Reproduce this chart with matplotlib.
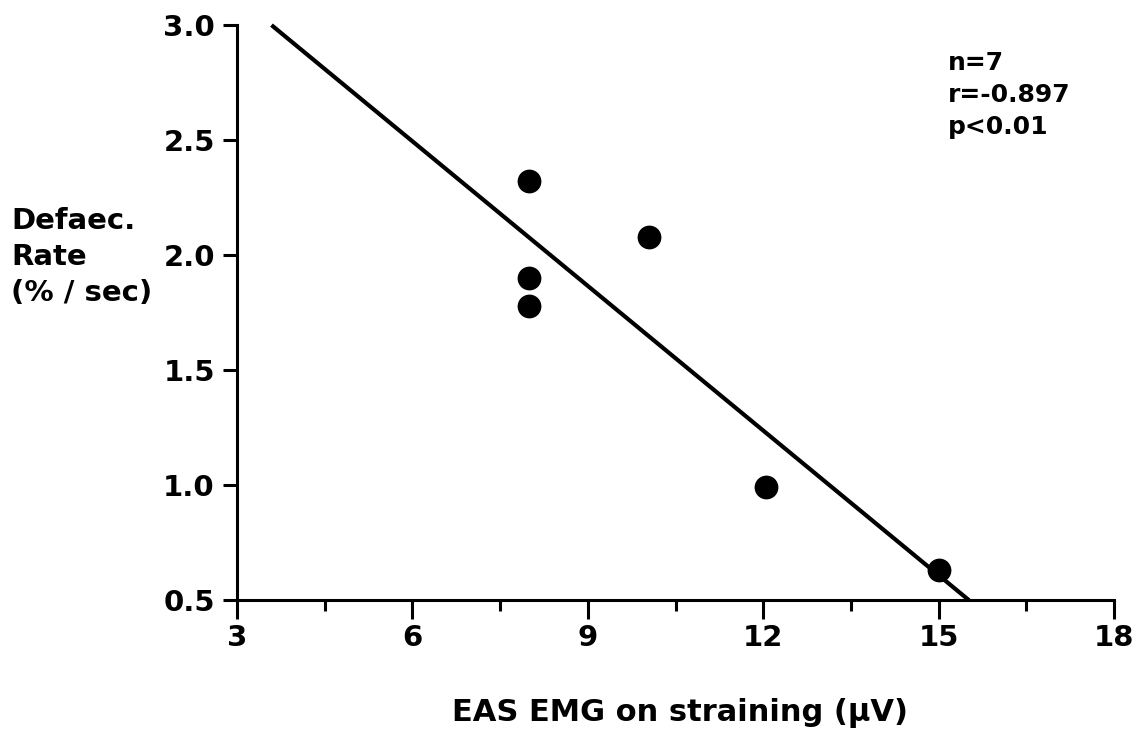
import numpy as np
import matplotlib
matplotlib.use("Agg")
import matplotlib.pyplot as plt
from matplotlib.ticker import MultipleLocator, FormatStrFormatter

plt.rcParams['font.family'] = ['DejaVu Sans']
plt.rcParams['font.weight'] = 'bold'

# data
emg = [8.0, 8.0, 8.0, 10.05, 12.05, 15.0]
rate = [2.32, 1.90, 1.78, 2.08, 0.99, 0.63]

# regression line as drawn
fit_slope = -0.2096
fit_intercept = 3.752
fit_x_range = [3.59, 15.52]

stats_lines = ['n=7', 'r=-0.897', 'p<0.01']

fig = plt.figure(figsize=(11.45, 7.31), dpi=100)
ax = fig.add_axes([237/1145, 1 - 600/731, (1114-237)/1145, (600-25)/731])

fx = np.array(fit_x_range)
ax.plot(fx, fit_intercept + fit_slope*fx, color='black', lw=3, solid_capstyle='butt', clip_on=False)
ax.scatter(emg, rate, s=260, color='black', zorder=3, clip_on=False)

ax.set_xlim(3, 18)
ax.set_ylim(0.5, 3.0)
ax.xaxis.set_major_locator(MultipleLocator(3))
ax.xaxis.set_minor_locator(MultipleLocator(1.5))
ax.yaxis.set_major_locator(MultipleLocator(0.5))
ax.yaxis.set_major_formatter(FormatStrFormatter('%.1f'))

for s in ['top', 'right']:
    ax.spines[s].set_visible(False)
for s in ['left', 'bottom']:
    ax.spines[s].set_linewidth(2.2)

ax.tick_params(axis='x', which='major', length=14, width=2.2, pad=3, labelsize=21)
ax.tick_params(axis='x', which='minor', length=8, width=2.2)
ax.tick_params(axis='y', which='major', length=10, width=2.2, pad=6, labelsize=21)
for lab in ax.get_xticklabels() + ax.get_yticklabels():
    lab.set_fontweight('bold')

fig.text(680/1145, 1 - 713/731, 'EAS EMG on straining (\u03bcV)', ha='center', va='center',
         fontsize=22, fontweight='bold')
fig.text(11/1145, 1 - 257/731, 'Defaec.\nRate\n(% / sec)', ha='left', va='center',
         fontsize=21, fontweight='bold', linespacing=1.36)
fig.text(948/1145, 1 - 95/731, '\n'.join(stats_lines), ha='left', va='center',
         fontsize=18, fontweight='bold', linespacing=1.42)

fig.savefig('out.png', dpi=100)
